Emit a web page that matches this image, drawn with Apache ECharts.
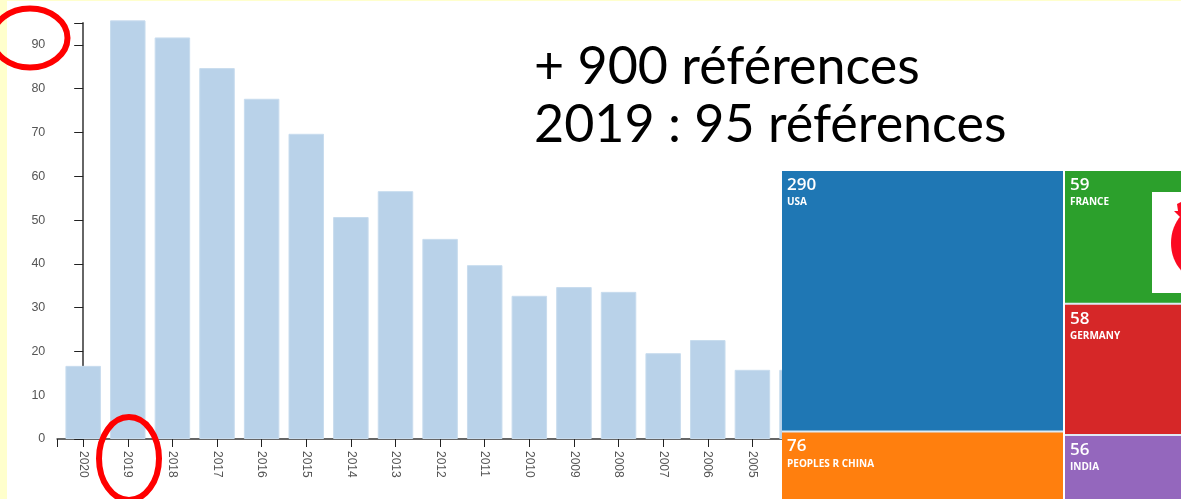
<!DOCTYPE html>
<html>
<head>
<meta charset="utf-8">
<style>
  html, body { margin: 0; padding: 0; background: #fff; }
  #chart { width: 1181px; height: 499px; }
</style>
<script src="https://cdn.jsdelivr.net/npm/echarts@6/dist/echarts.min.js"></script>
</head>
<body>
<div id="chart"></div>
<script>
const years = ['2020','2019','2018','2017','2016','2015','2014','2013','2012','2011','2010','2009','2008','2007','2006','2005','2004'];
const counts = [16.7, 95.6, 91.7, 84.7, 77.7, 69.7, 50.7, 56.6, 45.7, 39.7, 32.7, 34.7, 33.6, 19.6, 22.6, 15.8, 15.8];
const yTicks = [0, 10, 20, 30, 40, 50, 60, 70, 80, 90, 95];

const leftNames = ['USA', 'PEOPLES R CHINA'];
const leftValues = [290, 76];
const leftColors = ['#1f77b4', '#ff7f0e'];

const rightNames = ['FRANCE', 'GERMANY', 'INDIA'];
const rightValues = [59, 58, 56];
const rightColors = ['#2ca02c', '#d62728', '#9467bd'];

const noteLines = ['+ 900 références', '2019 : 95 références'];

// axis starts a bit before the first band, like the d3 original
const xStart = -0.58;
const xEnd = 15.67;
const bandTicks = years.slice(0, 16).map((y, i) => i);

function treemapSeries(names, values, colors, box) {
  return {
    type: 'treemap',
    left: box.left, top: box.top, width: box.width, height: box.height,
    roam: false,
    nodeClick: false,
    silent: true,
    z: 5,
    breadcrumb: { show: false },
    itemStyle: { gapWidth: 2, borderWidth: 0, borderColor: '#dfeaf3' },
    upperLabel: { show: false },
    label: {
      show: true,
      position: [0, -1],
      formatter: '{v|{c}}\n{n|{b}}',
      rich: {
        v: { color: '#fff', fontFamily: 'Open Sans', fontSize: 17, fontWeight: 600, lineHeight: 20 },
        n: { color: '#fff', fontFamily: 'Open Sans', fontSize: 10, fontWeight: 700, lineHeight: 15 }
      }
    },
    data: names.map((name, i) => ({
      name: name,
      value: values[i],
      itemStyle: { color: colors[i] }
    }))
  };
}

const chart = echarts.init(document.getElementById('chart'));

chart.setOption({
  animation: false,
  backgroundColor: '#fff',
  grid: { left: 57.3, top: 23, width: 725, height: 416 },
  xAxis: {
    type: 'value',
    min: xStart,
    max: xEnd,
    splitLine: { show: false },
    axisLine: { show: true, lineStyle: { color: '#666', width: 2 } },
    axisTick: {
      show: true, length: 8,
      lineStyle: { color: '#222' },
      customValues: [xStart].concat(bandTicks)
    },
    axisLabel: {
      color: '#555', fontFamily: 'Liberation Sans', fontSize: 12, rotate: -90, margin: 12,
      customValues: bandTicks,
      formatter: v => years[v]
    }
  },
  yAxis: {
    type: 'value',
    min: 0,
    max: 95,
    interval: 10,
    splitLine: { show: false },
    axisLine: { show: true, lineStyle: { color: '#666', width: 2 } },
    axisTick: { show: true, length: 9, lineStyle: { color: '#222' }, customValues: yTicks },
    axisLabel: {
      color: '#555', fontFamily: 'Liberation Sans', fontSize: 12.5, margin: 12,
      customValues: yTicks.slice(0, 10)
    }
  },
  series: [
    {
      type: 'bar',
      barWidth: 35.5,
      clip: false,
      itemStyle: { color: '#b9d2e9', borderColor: '#c8dcee', borderWidth: 1 },
      data: counts.map((c, i) => [i, c])
    },
    treemapSeries(leftNames, leftValues, leftColors, { left: 782, top: 171, width: 281, height: 328 }),
    treemapSeries(rightNames, rightValues, rightColors, { left: 1065, top: 171, width: 132, height: 390 })
  ],
  graphic: [
    // strip of yellow slide background
    { type: 'rect', z: 20, shape: { x: 0, y: 0, width: 7, height: 499 }, style: { fill: '#ffffcc' } },
    { type: 'rect', z: 20, shape: { x: 0, y: 0, width: 1181, height: 1 }, style: { fill: '#ffffcc' } },
    { type: 'text', z: 20, x: 534, y: 41, style: { text: noteLines[0], fill: '#000', font: '52px "Lato"' } },
    { type: 'text', z: 20, x: 534, y: 99, style: { text: noteLines[1], fill: '#000', font: '52px "Lato"' } },
    // picture pasted on the France cell
    { type: 'rect', z: 20, shape: { x: 1152, y: 192, width: 29, height: 101 }, style: { fill: '#fff' } },
    { type: 'ellipse', z: 21, shape: { cx: 1200, cy: 243, rx: 29, ry: 36 }, style: { fill: '#fb0a22' } },
    { type: 'polygon', z: 21, shape: { points: [[1174, 211], [1178, 211], [1177, 204], [1181, 202], [1181, 218], [1177, 214]] }, style: { fill: '#fb0a22' } },
    // red hand-drawn circles
    { type: 'ellipse', z: 22, shape: { cx: 30, cy: 38, rx: 37.5, ry: 29.5 }, style: { fill: 'none', stroke: '#ff0000', lineWidth: 6 } },
    { type: 'ellipse', z: 22, shape: { cx: 129, cy: 458.5, rx: 30, ry: 41.5 }, style: { fill: 'none', stroke: '#ff0000', lineWidth: 6 } }
  ]
});
</script>
</body>
</html>
